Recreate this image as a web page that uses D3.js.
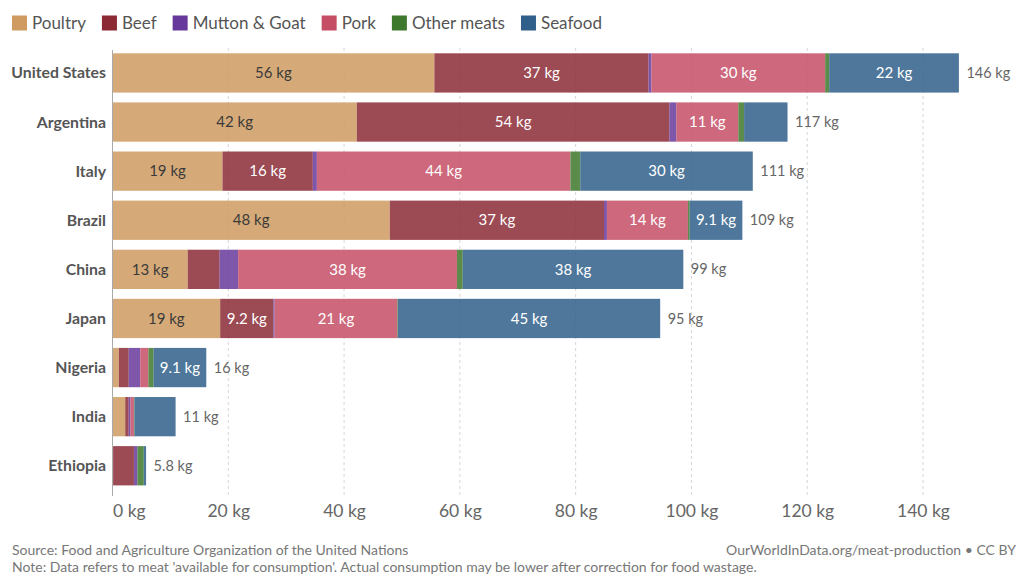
<!DOCTYPE html>
<html>
<head>
<meta charset="utf-8">
<script src="https://cdn.jsdelivr.net/npm/d3@7"></script>
<style>
  html, body { margin: 0; padding: 0; background: #fff; }
  svg { display: block; font-family: Lato, "Open Sans", sans-serif; }
</style>
</head>
<body>
<svg id="chart" width="1019" height="575"></svg>
<script>
// Meat supply per person, kg per year, by type
const countries = ["United States", "Argentina", "Italy", "Brazil", "China", "Japan", "Nigeria", "India", "Ethiopia"];
const meatTypes = ["Poultry", "Beef", "Mutton & Goat", "Pork", "Other meats", "Seafood"];
const typeColors = ["#CF9B60", "#8B2A35", "#67389B", "#C54E65", "#3E782C", "#2F5F8A"];

const poultry  = [55.6, 42.2, 19.0, 47.9, 13.0, 18.6, 1.1, 2.2, 0.1];
const beef     = [37.0, 54.0, 15.6, 37.0,  5.5,  9.2, 1.7, 0.6, 3.6];
const mutton   = [ 0.5,  1.2,  0.7,  0.5,  3.2,  0.2, 2.0, 0.3, 0.6];
const pork     = [30.0, 10.7, 43.8, 14.0, 37.8, 21.2, 1.4, 0.6, 0.0];
const other    = [ 0.7,  1.0,  1.7,  0.3,  1.0,  0.1, 0.9, 0.1, 1.1];
const seafood  = [22.4,  7.5, 29.8,  9.1, 38.1, 45.3, 9.1, 7.1, 0.4];

const xTicks = [0, 20, 40, 60, 80, 100, 120, 140];
const sourceText = "Source: Food and Agriculture Organization of the United Nations";
const noteText = "Note: Data refers to meat 'available for consumption'. Actual consumption may be lower after correction for food wastage.";
const creditText = "OurWorldInData.org/meat-production • CC BY";

const seriesValues = [poultry, beef, mutton, pork, other, seafood];
const rows = countries.map((c, i) => {
  const r = { country: c };
  meatTypes.forEach((t, j) => r[t] = seriesValues[j][i]);
  r.total = d3.sum(seriesValues, s => s[i]);
  return r;
});

const fmt = v => v >= 10 ? d3.format(".0f")(v) + " kg" : d3.format(".1f")(v) + " kg";

const svg = d3.select("#chart");
const x = d3.scaleLinear().domain([0, 140]).range([112.5, 923]);
const y = d3.scaleBand().domain(countries).range([53.3, 485.4]).paddingInner(0.2).paddingOuter(0);
const color = d3.scaleOrdinal().domain(meatTypes).range(typeColors);

// Legend
const legend = svg.append("g").attr("class", "legend");
let lx = 12;
meatTypes.forEach(t => {
  const g = legend.append("g").attr("transform", `translate(${lx},0)`);
  g.append("rect").attr("x", 0).attr("y", 15.5).attr("width", 15).attr("height", 15).attr("fill", color(t));
  const txt = g.append("text").attr("x", 20).attr("y", 23.5).attr("dy", "0.35em")
    .attr("font-size", 17).attr("fill", "#555").text(t);
  lx += 20 + txt.node().getComputedTextLength() + 16;
});

// Grid lines
svg.append("g").selectAll("line").data(xTicks.slice(1)).join("line")
  .attr("x1", d => x(d)).attr("x2", d => x(d))
  .attr("y1", 48).attr("y2", 496)
  .attr("stroke", "#d6d6d6").attr("stroke-dasharray", "3,3");

// Stacked bars
const stack = d3.stack().keys(meatTypes)(rows);
const layers = svg.append("g").selectAll("g").data(stack).join("g")
  .attr("fill", d => color(d.key)).attr("fill-opacity", 0.85);
layers.selectAll("rect").data(d => d).join("rect")
  .attr("x", d => x(d[0]))
  .attr("y", d => y(d.data.country))
  .attr("width", d => Math.max(0, x(d[1]) - x(d[0])))
  .attr("height", y.bandwidth());

// Segment value labels where the segment is wide enough
const segLabels = svg.append("g");
stack.forEach(layer => {
  layer.forEach(d => {
    const w = x(d[1]) - x(d[0]);
    if (w < 48) return;
    segLabels.append("text")
      .attr("x", (x(d[0]) + x(d[1])) / 2)
      .attr("y", y(d.data.country) + y.bandwidth() / 2)
      .attr("dy", "0.35em")
      .attr("text-anchor", "middle")
      .attr("font-size", 15)
      .attr("fill", layer.key === "Poultry" ? "#3a3a3a" : "#fff")
      .text(fmt(d[1] - d[0]));
  });
});

// Totals
svg.append("g").selectAll("text").data(rows).join("text")
  .attr("x", d => x(d.total) + 7.5)
  .attr("y", d => y(d.country) + y.bandwidth() / 2)
  .attr("dy", "0.35em")
  .attr("font-size", 14.5).attr("fill", "#666")
  .text(d => fmt(d.total));

// Category labels
svg.append("g").selectAll("text").data(countries).join("text")
  .attr("x", 106)
  .attr("y", d => y(d) + y.bandwidth() / 2)
  .attr("dy", "0.35em")
  .attr("text-anchor", "end")
  .attr("font-size", 15.8).attr("font-weight", "bold").attr("fill", "#555")
  .text(d => d);

// Baseline
svg.append("line").attr("x1", x(0)).attr("x2", x(0)).attr("y1", 50).attr("y2", 496)
  .attr("stroke", "#aaa").attr("stroke-width", 1);

// Bottom axis labels
const xAxis = d3.axisBottom(x).tickValues(xTicks).tickSize(0).tickPadding(0).tickFormat(d => d + " kg");
const ax = svg.append("g").attr("transform", "translate(0,505)").call(xAxis);
ax.select(".domain").remove();
ax.selectAll("text").attr("font-size", 17.5).attr("fill", "#666")
  .attr("font-family", "Lato, sans-serif").attr("dy", "0.71em");
ax.selectAll(".tick").filter(d => d === 0).select("text").attr("text-anchor", "start");

// Footer
svg.append("text").attr("x", 12).attr("y", 554.5).attr("font-size", 14).attr("fill", "#777").text(sourceText);
svg.append("text").attr("x", 12).attr("y", 571.5).attr("font-size", 14).attr("fill", "#777").text(noteText);
svg.append("text").attr("x", 1016).attr("y", 554.5).attr("text-anchor", "end").attr("font-size", 14).attr("fill", "#777").text(creditText);
</script>
</body>
</html>
